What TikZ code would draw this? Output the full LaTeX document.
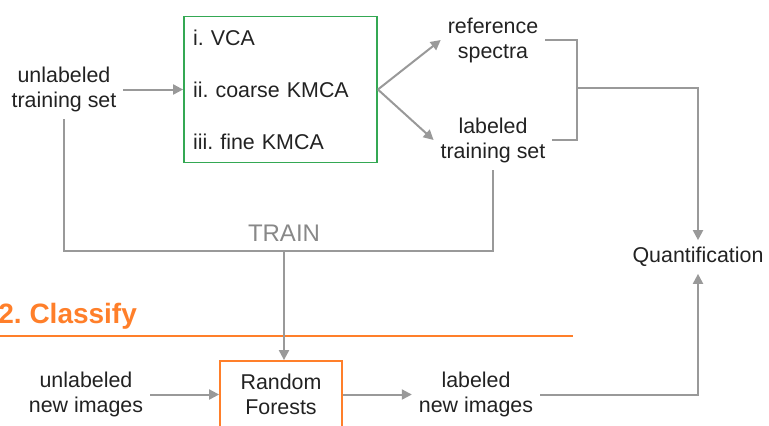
\documentclass[tikz,border=0pt]{standalone}
\usepackage{fontspec}
\setmainfont{Liberation Sans}
\usetikzlibrary{arrows.meta}
\frenchspacing

\definecolor{linegray}{HTML}{999999}
\definecolor{textgray}{HTML}{222222}
\definecolor{traingray}{HTML}{888888}
\definecolor{boxgreen}{HTML}{34A853}
\definecolor{boxorange}{HTML}{FF7F2A}

\tikzset{
  txt/.style={align=center,text=textgray,font=\fontsize{10.7}{12.5}\selectfont},
  gbox/.style={draw=boxgreen,line width=0.9pt,align=left,text=textgray,
    font=\fontsize{10.7}{26}\selectfont,text width=87.5pt,inner xsep=4.5pt,
    minimum width=96.5pt,minimum height=73pt},
  obox/.style={txt,draw=boxorange,line width=0.9pt,minimum width=61pt,minimum height=33.5pt},
  wire/.style={draw=linegray,line width=1pt},
  arr/.style={wire,-{Triangle[length=5pt,width=5pt]}}
}

\begin{document}
\begin{tikzpicture}[x=0.5pt,y=-0.5pt]
      \clip (0,0) rectangle (769,425);
      % 1. train
      \node [txt] (ut) at (64,89.5) {unlabeled\\training set};
      \node [gbox] (kmca) at (280.5,89.5) {i. VCA\\ii. coarse KMCA\\iii. fine KMCA};
      \node [txt] (ref) at (493,40) {reference\\spectra};
      \node [txt] (lts) at (493,140) {labeled\\training set};
      \node [txt] (quant) at (698,257) {Quantification};
      \coordinate (join) at (577,88);
      \coordinate (tr) at (284,251);
      \node [anchor=base,text=traingray,font=\fontsize{12}{14}\selectfont] (train) at (284,241) {TRAIN};

      % 2. classify
      \node [anchor=west,inner sep=0pt,text=boxorange,font=\bfseries\fontsize{14}{16}\selectfont] (classify) at (-2,316) {2. Classify};
      \draw [boxorange,line width=1.4pt] (0,336) -- (573,336);
      \node [txt] (un) at (86,394.5) {unlabeled\\new images};
      \node [obox] (rf) at (281,394.5) {Random\\Forests};
      \node [txt] (lni) at (476,394.5) {labeled\\new images};

      \foreach \from/\to in {ut.east/kmca.west,kmca.east/ref.west,kmca.east/lts.west,un.east/rf.west,rf.east/lni.west}
        \draw [arr] (\from) -- (\to);

      \draw [arr] (tr) -- (tr |- rf.north);
      \draw [wire] (ref.east) -| (join) |- (lts.east);
      \draw [arr] (join) -| (quant.north);
      \draw [wire] (ut.south) |- (tr) -| (lts.south);
      \draw [arr] (lni.east) -| (quant.south);
    \end{tikzpicture}
\end{document}
